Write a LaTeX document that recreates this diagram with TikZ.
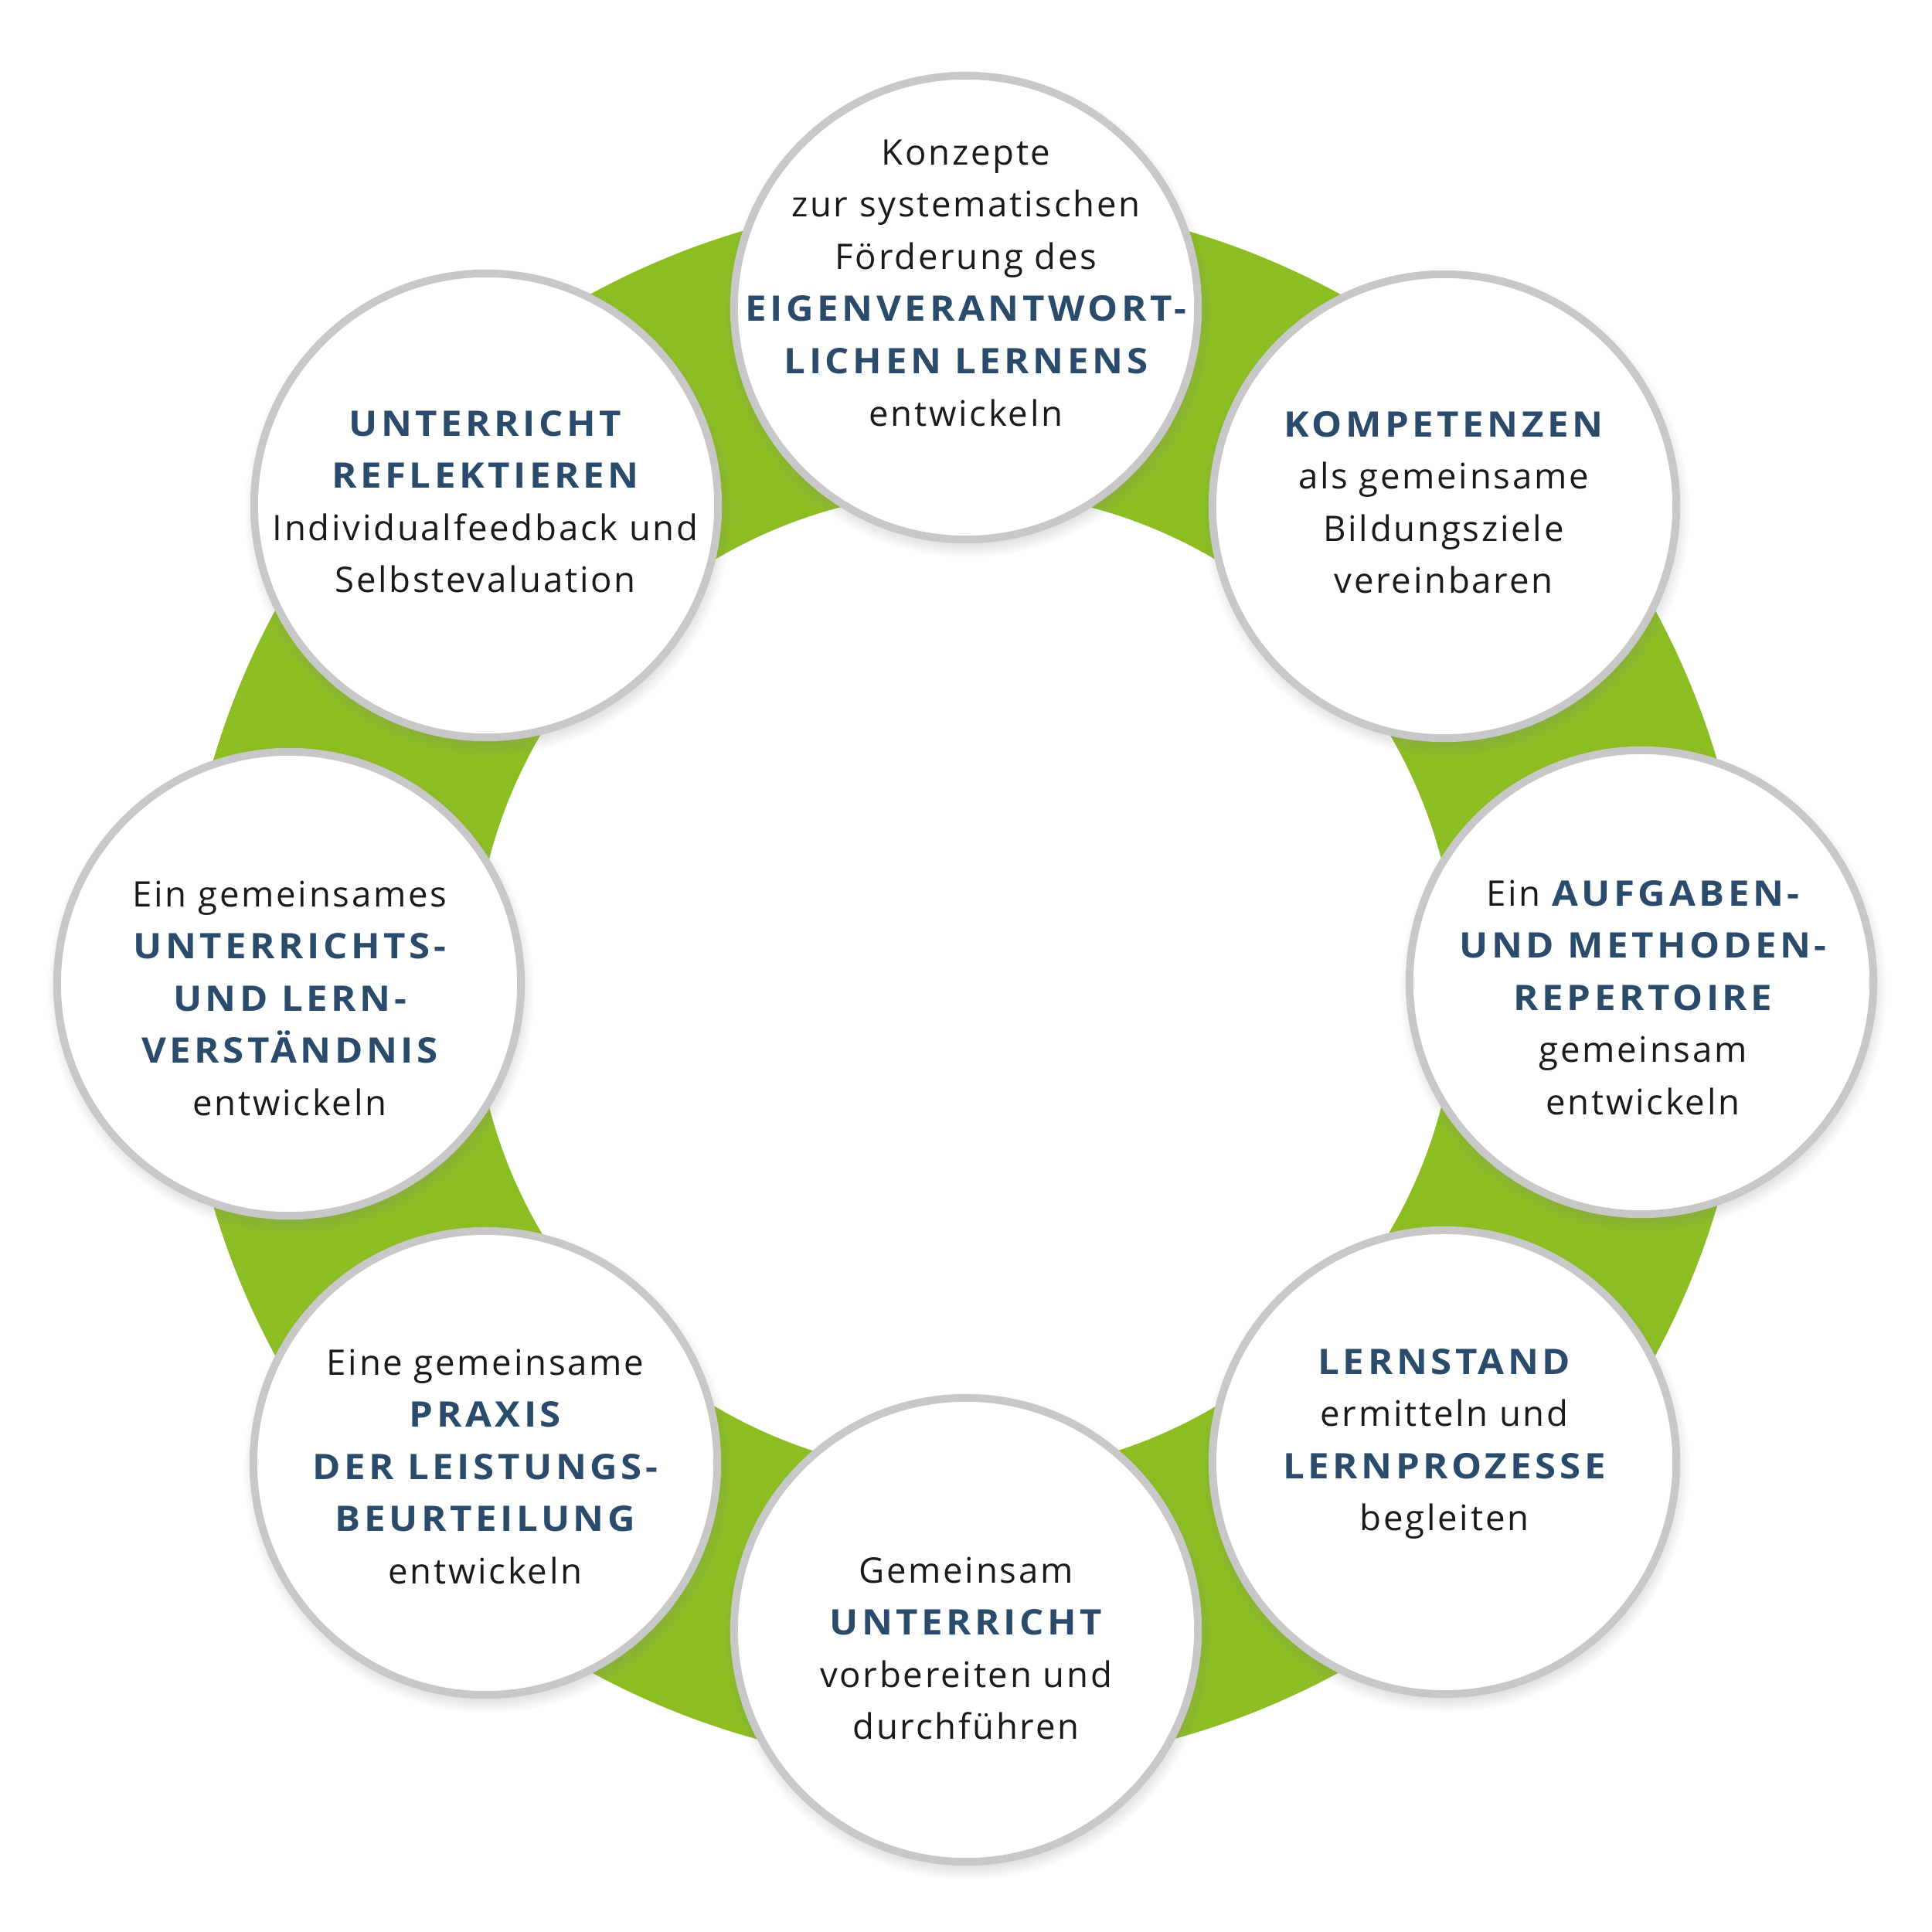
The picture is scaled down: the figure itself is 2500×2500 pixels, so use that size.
\documentclass[tikz,border=0pt]{standalone}
\usepackage{fontspec}
\setmainfont{Open Sans}[LetterSpace=6]
\newfontfamily\capsfont{Open Sans}[LetterSpace=10, FakeStretch=1.08]
\usetikzlibrary{shadows}
\definecolor{ringgreen}{HTML}{8CBE24}
\definecolor{navy}{HTML}{2A4B6C}
\definecolor{textc}{HTML}{1A1A1A}
\definecolor{bordc}{HTML}{C8C8C8}
\newcommand\capsb[1]{{\capsfont\bfseries\color{navy}#1}}
\newcommand\circtext[4]{%
  \foreach \ln [count=\i] in {#4}
    \node[txt] (#1-\i) at (#2,{#3+67.6*(\i-1)}) {\ln};}
\tikzset{
  bubble/.style={circle, draw=bordc, line width=0.1cm, fill=white,
    minimum size=6cm, inner sep=0pt,
    circular drop shadow={shadow xshift=0.02cm, shadow yshift=-0.08cm,
      shadow scale=1.05, opacity=0.55}},
  txt/.style={inner sep=0pt, anchor=base, text=textc,
    font=\fontsize{12.95pt}{19pt}\selectfont}
}
\begin{document}
\begin{tikzpicture}[x=0.01cm,y=-0.01cm]
\useasboundingbox (0,0) rectangle (2500,2500);
\coordinate (ctr) at (1249,1272);
% green ring
\fill[ringgreen, even odd rule] (ctr) circle[radius=10.14cm] (ctr) circle[radius=6.36cm];
% circles
\node[bubble] (top) at (1250,398) {};
\node[bubble] (tr) at (1869,655) {};
\node[bubble] (rt) at (2124,1271) {};
\node[bubble] (br) at (1869,1892) {};
\node[bubble] (bot) at (1250,2109) {};
\node[bubble] (bl) at (628,1893) {};
\node[bubble] (lf) at (374,1273) {};
\node[bubble] (tl) at (629,654) {};
% texts
\circtext{ttop}{1250}{213}{Konzepte, zur systematischen, Förderung des, \capsb{EIGENVERANTWORT-}, \capsb{LICHEN LERNENS}, entwickeln}
\circtext{ttr}{1868}{565}{\capsb{KOMPETENZEN}, als gemeinsame, Bildungsziele, vereinbaren}
\circtext{trt}{2126}{1172}{Ein \capsb{AUFGABEN-}, \capsb{UND METHODEN-}, \capsb{REPERTOIRE}, gemeinsam, entwickeln}
\circtext{tbr}{1869}{1778}{\capsb{LERNSTAND}, ermitteln und, \capsb{LERNPROZESSE}, begleiten}
\circtext{tbot}{1250}{2048}{Gemeinsam, \capsb{UNTERRICHT}, vorbereiten und, durchführen}
\circtext{tbl}{628}{1779}{Eine gemeinsame, \capsb{PRAXIS}, \capsb{DER LEISTUNGS-}, \capsb{BEURTEILUNG}, entwickeln}
\circtext{tlf}{375}{1173}{Ein gemeinsames, \capsb{UNTERRICHTS-}, \capsb{UND LERN-}, \capsb{VERSTÄNDNIS}, entwickeln}
\circtext{ttl}{628}{564}{\capsb{UNTERRICHT}, \capsb{REFLEKTIEREN}, Individualfeedback und, Selbstevaluation}
\end{tikzpicture}
\end{document}
